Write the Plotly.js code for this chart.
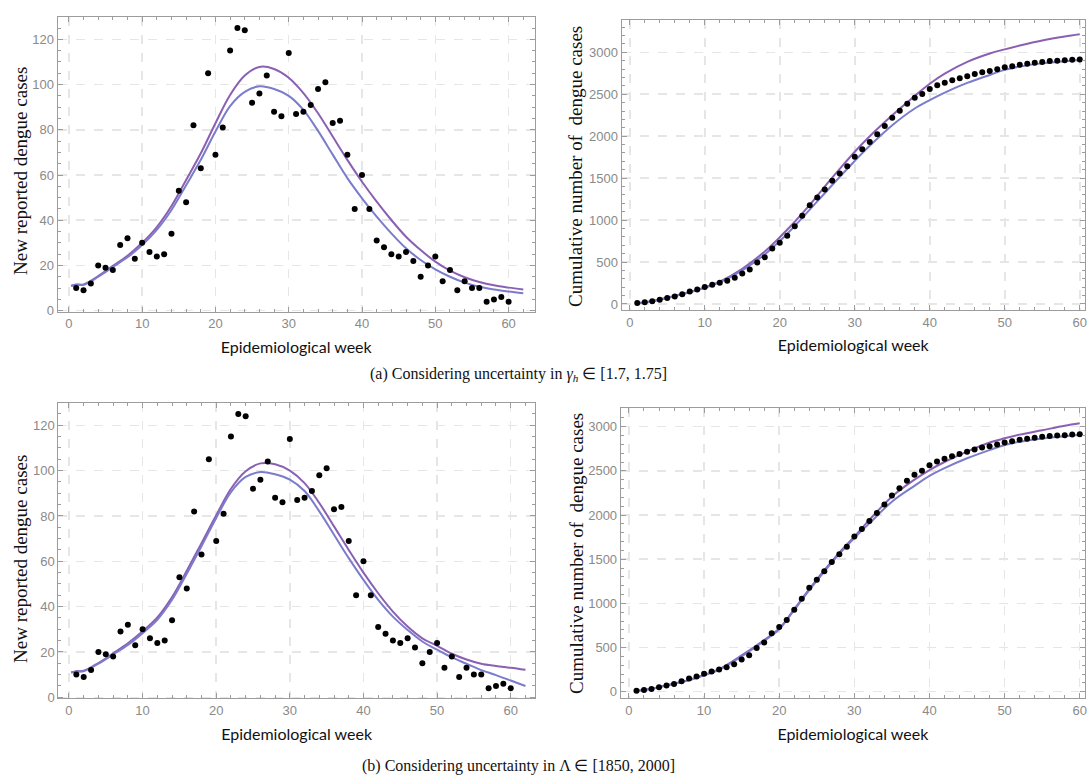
<!DOCTYPE html>
<html>
<head>
<meta charset="utf-8">
<script src="https://cdn.plot.ly/plotly-3.0.1.min.js"></script>
<style>
html,body{margin:0;padding:0;background:#fff;}
#chart{width:1087px;height:778px;}
</style>
</head>
<body>
<div id="chart"></div>
<script>
// ---- observed data (weekly new cases, weeks 1..60) ----
const weeks = [1,2,3,4,5,6,7,8,9,10,11,12,13,14,15,16,17,18,19,20,21,22,23,24,25,26,27,28,29,30,
  31,32,33,34,35,36,37,38,39,40,41,42,43,44,45,46,47,48,49,50,51,52,53,54,55,56,57,58,59,60];
const newCases = [10,9,12,20,19,18,29,32,23,30,26,24,25,34,53,48,82,63,105,69,
  81,115,125,124,92,96,104,88,86,114,87,88,91,98,101,83,84,69,45,60,
  45,31,28,25,24,26,22,15,20,24,13,18,9,13,10,10,4,5,6,4];
const cumCases = [10,19,31,51,70,88,117,149,172,202,228,252,277,311,364,412,494,557,662,731,
  812,927,1052,1176,1268,1364,1468,1556,1642,1756,1843,1931,2022,2120,2221,2304,2388,2457,2502,2562,
  2607,2638,2666,2691,2715,2741,2763,2778,2798,2822,2835,2853,2862,2875,2885,2895,2899,2904,2910,2914];

// ---- model curves, weekly new cases ----
const curveWeeks = [0.3,1,2,4,6,8,10,12,14,16,18,20,22,24,26,28,30,32,34,36,38,40,42,44,46,48,50,52,54,56,58,60,62];
const aLow  = [10.9,11.5,11.4,15,19.3,23.6,29,35.7,44.5,55.5,66.7,79.2,90.5,96.8,99.2,98,95,88.8,79.5,69,58.6,49.7,41.6,34.2,27.6,22.4,18.3,15,12.4,10.6,9.4,8.5,7.7];
const aHigh = [11,11.6,11.6,15.3,19.8,24.3,30,37,46.3,57.8,69.6,82.9,95.4,104,107.8,106.9,103,96.2,87.3,77,66.7,57,48.2,40.1,32.7,26.8,21.7,17.7,14.8,12.7,11.2,10.2,9.4];
const bLow  = [10.9,11.3,11.5,14.8,18.9,23.1,28.3,34.2,43,54.5,66.6,79.1,90.5,97.2,99.4,98.4,96,91,82,71.7,61.4,51.8,43,35.6,29.7,24.6,21,17.6,14.8,12,9.8,7.4,5];
const bHigh = [11,11.5,11.7,15.1,19.4,23.8,29.1,35.2,44.2,55.8,68,80.3,92,99.7,103.2,102.8,100,94.5,85.7,75.4,65,55,45.9,37.8,31.2,26,22.7,19.2,16.7,14.8,13.8,13,12.1];

// ---- model curves, cumulative ----
const cumWeeks = [1,3,5,8,10,12,15,18,20,22,24,26,28,30,32,35,38,40,42,45,48,50,52,55,58,60];
const aCumLow  = [8,34,72,138,192,258,400,590,750,930,1125,1320,1515,1705,1885,2130,2330,2430,2520,2635,2730,2790,2830,2868,2893,2908];
const aCumHigh = [8,35,74,142,198,266,420,625,795,980,1180,1400,1610,1815,2000,2250,2480,2625,2745,2885,2985,3035,3080,3140,3188,3214];
const bCumLow  = [8,32,70,130,185,248,400,575,706,925,1150,1360,1560,1740,1905,2151,2330,2442,2530,2642,2735,2792,2830,2865,2893,2906];
const bCumHigh = [8,33,72,134,190,254,410,585,715,935,1160,1375,1575,1755,1945,2208,2400,2509,2600,2717,2820,2868,2910,2960,3010,3038];

const colHigh = '#8b5fb2';
const colLow = '#7b7ccb';

function line(x, y, col, xa, ya) {
  return {x: x, y: y, type: 'scatter', mode: 'lines', xaxis: xa, yaxis: ya,
    line: {color: col, width: 2, shape: 'spline', smoothing: 1}, hoverinfo: 'skip', showlegend: false};
}
function dots(x, y, xa, ya) {
  return {x: x, y: y, type: 'scatter', mode: 'markers', xaxis: xa, yaxis: ya,
    marker: {color: '#000', size: 6}, showlegend: false};
}

const traces = [
  line(curveWeeks, aHigh, colHigh, 'x', 'y'),
  line(curveWeeks, aLow, colLow, 'x', 'y'),
  dots(weeks, newCases, 'x', 'y'),
  line(cumWeeks, aCumHigh, colHigh, 'x2', 'y2'),
  line(cumWeeks, aCumLow, colLow, 'x2', 'y2'),
  dots(weeks, cumCases, 'x2', 'y2'),
  line(curveWeeks, bHigh, colHigh, 'x3', 'y3'),
  line(curveWeeks, bLow, colLow, 'x3', 'y3'),
  dots(weeks, newCases, 'x3', 'y3'),
  line(cumWeeks, bCumHigh, colHigh, 'x4', 'y4'),
  line(cumWeeks, bCumLow, colLow, 'x4', 'y4'),
  dots(weeks, cumCases, 'x4', 'y4')
];

const W = 1087, H = 778;
const frame = '#9c9c9c';
function ax(opts) {
  return Object.assign({
    showline: true, linecolor: frame, linewidth: 1, mirror: 'ticks',
    ticks: 'inside', ticklen: 5, tickcolor: frame, tickwidth: 1,
    tickfont: {family: 'Liberation Sans, Arial, sans-serif', size: 13, color: '#8a8a8a'},
    showgrid: true, gridcolor: '#e6e6e6', griddash: 'dash', gridwidth: 1.5,
    zeroline: false, automargin: false, fixedrange: true
  }, opts);
}
function xdom(l, r) { return [l / W, r / W]; }
function ydom(t, b) { return [1 - b / H, 1 - t / H]; }
function minorX() { return {dtick: 2, ticklen: 3, tickcolor: frame, ticks: 'inside', showgrid: false}; }
function minorY(d) { return {dtick: d, ticklen: 3, tickcolor: frame, ticks: 'inside', showgrid: false}; }

const xTitle = {text: 'Epidemiological week', font: {family: 'Lato, Open Sans, sans-serif', size: 16, color: '#111'}, standoff: 11};
const yTitleFont = {family: 'Liberation Serif, serif', size: 19, color: '#111'};
const capFont = {family: 'Liberation Serif, serif', size: 16, color: '#111'};

function yLabel(text, xpx, ypx) {
  return {text: text, xref: 'paper', yref: 'paper', x: xpx / W, y: 1 - ypx / H,
    xanchor: 'center', yanchor: 'middle', textangle: -90, showarrow: false, font: yTitleFont};
}

const layout = {
  width: W, height: H,
  margin: {l: 0, r: 0, t: 0, b: 0},
  paper_bgcolor: '#fff', plot_bgcolor: '#fff',
  showlegend: false,
  xaxis: ax({domain: xdom(57.5, 535), anchor: 'y', range: [-1.55, 63.6], dtick: 10, tick0: 0, minor: minorX(), title: xTitle}),
  yaxis: ax({domain: ydom(16.7, 311.7), anchor: 'x', range: [-0.45, 130], dtick: 20, tick0: 0, minor: minorY(5)}),
  xaxis2: ax({domain: xdom(621.5, 1085), anchor: 'y2', range: [-1.1, 60.7], dtick: 10, tick0: 0, minor: minorX(), title: xTitle}),
  yaxis2: ax({domain: ydom(20, 310), anchor: 'x2', range: [-72, 3385], dtick: 500, tick0: 0, minor: minorY(100)}),
  xaxis3: ax({domain: xdom(58.3, 535), anchor: 'y3', range: [-1.45, 63.3], dtick: 10, tick0: 0, minor: minorX(), title: xTitle}),
  yaxis3: ax({domain: ydom(403.3, 698.3), anchor: 'x3', range: [-0.45, 129.7], dtick: 20, tick0: 0, minor: minorY(5)}),
  xaxis4: ax({domain: xdom(620.7, 1085), anchor: 'y4', range: [-1.1, 60.7], dtick: 10, tick0: 0, minor: minorX(), title: xTitle}),
  yaxis4: ax({domain: ydom(408.3, 698.3), anchor: 'x4', range: [-75, 3208], dtick: 500, tick0: 0, minor: minorY(100)}),
  annotations: [
    yLabel('New reported dengue cases', 20, 171),
    yLabel('Cumulative number of  dengue cases', 576, 167),
    yLabel('New reported dengue cases', 20, 559),
    yLabel('Cumulative number of  dengue cases', 576, 554),
    {text: '(a) Considering uncertainty in <i>γ</i><sub><i>h</i></sub> ∈ [1.7, 1.75]', xref: 'paper', yref: 'paper',
      x: 518 / W, y: 1 - 375 / H, xanchor: 'center', yanchor: 'middle', showarrow: false, font: capFont},
    {text: '(b) Considering uncertainty in Λ ∈ [1850, 2000]', xref: 'paper', yref: 'paper',
      x: 518 / W, y: 1 - 766 / H, xanchor: 'center', yanchor: 'middle', showarrow: false, font: capFont}
  ]
};

Plotly.newPlot('chart', traces, layout, {displayModeBar: false, staticPlot: true});
</script>
</body>
</html>
